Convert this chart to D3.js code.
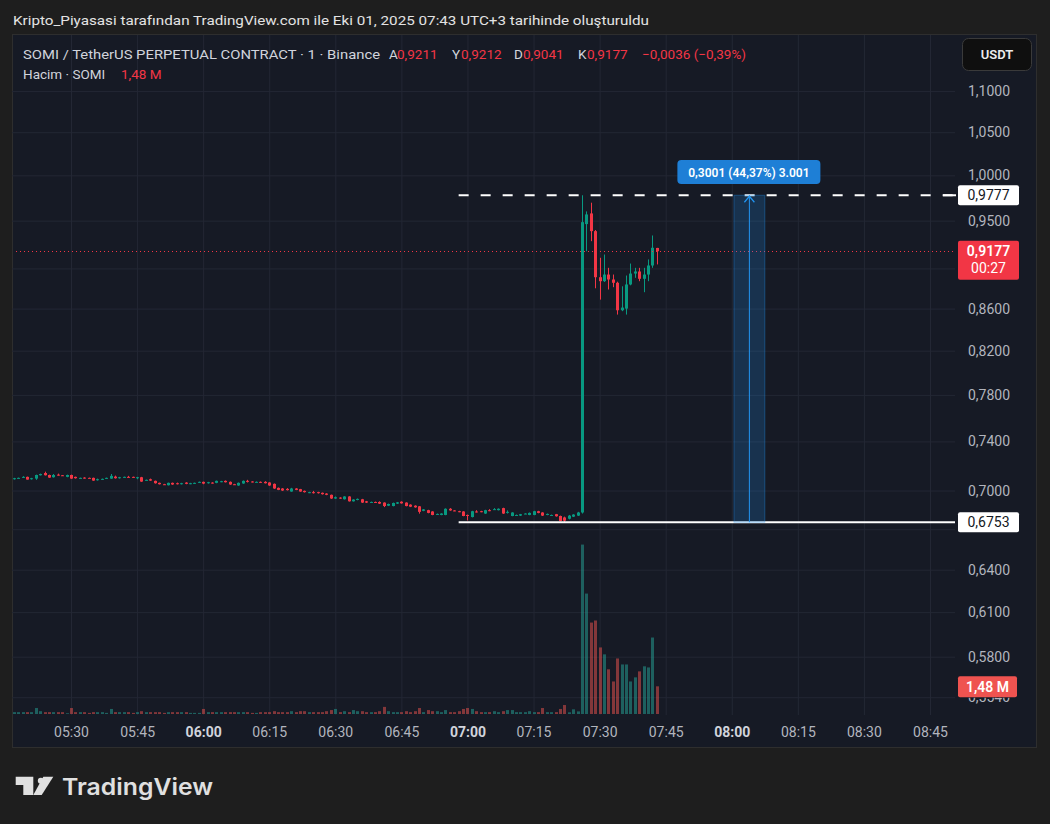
<!DOCTYPE html>
<html><head><meta charset="utf-8">
<script src="https://cdn.jsdelivr.net/npm/d3@7"></script>
<style>
html,body{margin:0;padding:0;background:#1e1e1e;}
svg{display:block;font-family:Roboto,"Noto Sans",sans-serif;}
</style></head>
<body>
<svg id="c" width="1050" height="824"></svg>
<script>
// ---------------- DATA ----------------
const startTime = "05:17";   // first 1-minute candle
const opens = [
.7095,.7098,.7101,.7109,.7093,.7095,.7122,.7140,.7124,.7106,
.7127,.7122,.7109,.7124,.7109,.7098,.7103,.7101,.7101,.7082,
.7087,.7095,.7095,.7111,.7098,.7106,.7109,.7109,.7103,.7106,
.7082,.7090,.7077,.7061,.7050,.7042,.7061,.7058,.7050,.7063,
.7053,.7055,.7063,.7069,.7058,.7063,.7061,.7069,.7077,.7069,
.7050,.7040,.7056,.7077,.7072,.7066,.7069,.7069,.7064,.7053,
.7021,.7016,.7013,.6992,.7016,.7011,.6997,.6982,.6987,.6987,
.6982,.6976,.6966,.6937,.6944,.6931,.6953,.6915,.6926,.6931,
.6915,.6907,.6910,.6910,.6905,.6881,.6878,.6897,.6912,.6905,
.6889,.6881,.6876,.6841,.6846,.6836,.6812,.6809,.6809,.6857,
.6844,.6838,.6836,.6809,.6793,.6836,.6838,.6820,.6846,.6852,
.6846,.6862,.6830,.6801,.6807,.6804,.6817,.6809,.6809,.6838,
.6828,.6809,.6807,.6815,.6801,.6790,.6780,.6796,.6804,.6828,
.9463,.9578,.9388,.8911,.8871,.8938,.8888,.8855,.8584,.8600,
.8838,.8948,.8969,.8895,.8938,.9030,.9211];
const highs = [
.7101,.7103,.7114,.7111,.7101,.7127,.7135,.7151,.7127,.7132,
.7135,.7124,.7127,.7127,.7111,.7103,.7106,.7103,.7103,.7095,
.7095,.7103,.7132,.7119,.7109,.7111,.7117,.7111,.7109,.7109,
.7087,.7095,.7079,.7063,.7053,.7063,.7063,.7063,.7061,.7066,
.7061,.7063,.7071,.7071,.7069,.7066,.7079,.7077,.7080,.7072,
.7053,.7064,.7080,.7085,.7074,.7072,.7072,.7074,.7066,.7056,
.7024,.7019,.7019,.7021,.7019,.7013,.7000,.6990,.6997,.6990,
.6984,.6979,.6968,.6953,.6947,.6955,.6955,.6931,.6937,.6934,
.6918,.6913,.6913,.6915,.6907,.6897,.6905,.6910,.6915,.6907,
.6892,.6884,.6878,.6855,.6849,.6838,.6820,.6822,.6860,.6862,
.6846,.6841,.6838,.6812,.6841,.6846,.6841,.6849,.6854,.6862,
.6860,.6865,.6844,.6830,.6812,.6817,.6822,.6828,.6841,.6841,
.6830,.6820,.6812,.6817,.6804,.6796,.6809,.6815,.6833,.9777,
.9600,.9695,.9400,.9109,.9143,.9006,.8938,.8866,.8820,.8928,
.9050,.9006,.9006,.9006,.9092,.9342,.9212];
const lows = [
.7087,.7095,.7101,.7087,.7087,.7085,.7120,.7120,.7101,.7103,
.7119,.7117,.7106,.7093,.7095,.7095,.7095,.7097,.7077,.7079,
.7085,.7093,.7093,.7095,.7095,.7103,.7103,.7101,.7090,.7069,
.7079,.7077,.7055,.7048,.7045,.7040,.7045,.7048,.7048,.7050,
.7050,.7053,.7061,.7050,.7055,.7055,.7058,.7066,.7064,.7045,
.7045,.7037,.7053,.7064,.7064,.7064,.7061,.7056,.7037,.7013,
.7003,.6997,.7000,.6990,.7003,.6990,.6984,.6979,.6976,.6976,
.6968,.6963,.6934,.6934,.6934,.6929,.6913,.6913,.6923,.6902,
.6902,.6905,.6902,.6894,.6870,.6878,.6876,.6894,.6897,.6876,
.6870,.6865,.6819,.6838,.6822,.6807,.6809,.6807,.6807,.6841,
.6838,.6830,.6799,.6767,.6790,.6828,.6830,.6817,.6838,.6849,
.6844,.6817,.6820,.6799,.6804,.6801,.6815,.6807,.6807,.6822,
.6801,.6807,.6804,.6796,.6759,.6753,.6775,.6793,.6801,.6820,
.9177,.9282,.8800,.8688,.8863,.8788,.8811,.8542,.8575,.8542,
.8830,.8905,.8871,.8761,.8871,.9006,.9041];
const closes = [
.7098,.7101,.7109,.7087,.7098,.7124,.7132,.7122,.7103,.7124,
.7122,.7119,.7124,.7095,.7098,.7101,.7098,.7099,.7079,.7090,
.7093,.7101,.7117,.7098,.7106,.7109,.7106,.7103,.7106,.7071,
.7085,.7079,.7058,.7050,.7048,.7061,.7048,.7050,.7058,.7053,
.7058,.7061,.7069,.7055,.7066,.7058,.7077,.7074,.7066,.7048,
.7049,.7061,.7077,.7072,.7066,.7069,.7064,.7058,.7040,.7016,
.7005,.7000,.7003,.7016,.7005,.6992,.6987,.6987,.6979,.6979,
.6971,.6966,.6937,.6947,.6937,.6953,.6915,.6929,.6934,.6905,
.6905,.6910,.6905,.6897,.6878,.6894,.6902,.6907,.6899,.6878,
.6873,.6868,.6833,.6852,.6825,.6809,.6817,.6820,.6857,.6844,
.6841,.6833,.6801,.6806,.6838,.6834,.6833,.6846,.6844,.6854,
.6857,.6820,.6833,.6828,.6809,.6815,.6820,.6825,.6838,.6825,
.6804,.6817,.6809,.6799,.6762,.6765,.6804,.6812,.6828,.9484,
.9567,.9388,.8911,.8871,.8938,.8888,.8855,.8584,.8610,.8838,
.8948,.8969,.8895,.8938,.9030,.9213,.9177];
// volume, millions of SOMI
const volumes = [
.10,.10,.10,.10,.10,.32,.15,.10,.10,.10,
.10,.10,.04,.32,.10,.10,.10,.06,.10,.10,
.10,.06,.27,.10,.10,.10,.10,.06,.10,.15,
.10,.10,.10,.10,.06,.10,.10,.10,.10,.10,
.06,.06,.06,.27,.10,.10,.10,.10,.10,.10,
.10,.10,.10,.10,.06,.06,.10,.10,.10,.15,
.10,.10,.10,.15,.10,.15,.15,.10,.10,.10,
.10,.15,.21,.27,.10,.15,.10,.21,.15,.15,
.10,.10,.10,.15,.38,.15,.10,.10,.10,.15,
.10,.15,.32,.10,.21,.15,.15,.10,.21,.10,
.10,.15,.27,.32,.27,.15,.10,.10,.10,.15,
.10,.15,.21,.21,.10,.10,.10,.15,.10,.10,
.32,.10,.10,.10,.27,.48,.09,.25,.14,9.06,
6.44,4.89,5.00,3.56,3.19,2.39,1.74,2.97,2.65,2.65,
1.74,1.96,2.28,2.55,2.49,4.09,1.48];
const priceTicks = [1.1, 1.05, 1.0, 0.95, 0.90, 0.86, 0.82, 0.78, 0.74, 0.70, 0.67, 0.64, 0.61, 0.58, 0.554];
const timeDomain = ["05:30", "08:45"];
const levelHigh = 0.9777, levelLow = 0.6753, levelStart = "06:58";
const measureStart = "08:00:30", measureEnd = "08:07:30";
const measureLabel = "0,3001 (44,37%) 3.001";
const countdown = "00:27";
const titleText = "Kripto_Piyasasi tarafından TradingView.com ile Eki 01, 2025 07:43 UTC+3 tarihinde oluşturuldu";
const symbolText = "SOMI / TetherUS PERPETUAL CONTRACT · 1 · Binance";
const volumeText = "Hacim · SOMI";

// ---------------- SETUP ----------------
const loc = d3.formatLocale({decimal: ",", thousands: ".", grouping: [3], currency: ["", ""], minus: "\u2212"});
const f4 = loc.format(".4f"), f2 = loc.format(".2f");
const T = s => { const [h, m, sec] = s.split(":").map(Number); return new Date(Date.UTC(2025, 9, 1, h, m, sec || 0)); };
const times = closes.map((_, i) => d3.utcMinute.offset(T(startTime), i));
const data = closes.map((c, i) => ({t: times[i], o: opens[i], h: highs[i], l: lows[i], c, v: volumes[i]}));

const PL = 12, PR = 955, PT = 35, PB = 715;
const x = d3.scaleUtc().domain(timeDomain.map(T)).range([71, 930]);
const y = d3.scaleLog().domain([0.58, 1.1]).range([656.7, 91.1]);
const yv = d3.scaleLinear().domain([0, 10]).range([714, 527]);

const UP = "#089981", DN = "#f23645";
const VUP = "rgba(38,166,154,0.5)", VDN = "rgba(239,83,80,0.5)";
const BG = "#161a25", GRID = "#232734", AX = "#b2b5be";

const last = data[data.length - 1], prev = data[data.length - 2];

const svg = d3.select("#c");
svg.append("rect").attr("width", 1050).attr("height", 824).attr("fill", "#1e1e1e");

// title
svg.append("text").attr("x", 13).attr("y", 24.5).attr("fill", "#e3e3e3")
  .attr("font-size", 13.5).attr("textLength", 636).attr("lengthAdjust", "spacingAndGlyphs").text(titleText);

// chart panel
svg.append("rect").attr("x", 12.5).attr("y", 34.5).attr("width", 1024).attr("height", 713)
  .attr("fill", BG).attr("stroke", "#2e2e2e");

// gridlines
const gy = svg.append("g").attr("transform", `translate(${PL},0)`)
  .call(d3.axisLeft(y).tickValues(priceTicks).tickSize(-(PR - PL)).tickFormat(""));
gy.select(".domain").remove();
gy.selectAll("line").attr("stroke", GRID);
const gx = svg.append("g").attr("transform", `translate(0,${PB})`)
  .call(d3.axisBottom(x).ticks(d3.utcMinute.every(15)).tickSize(-(PB - PT)).tickFormat(""));
gx.select(".domain").remove();
gx.selectAll("line").attr("stroke", GRID);

// plot clip
svg.append("clipPath").attr("id", "clip").append("rect")
  .attr("x", PL + 1).attr("y", PT + 1).attr("width", PR - PL - 1).attr("height", PB - PT - 1);
const plot = svg.append("g").attr("clip-path", "url(#clip)");

const xc = d => Math.round(x(d.t));
// volume
plot.append("g").selectAll("rect").data(data).join("rect")
  .attr("x", d => xc(d) - 1).attr("width", 3)
  .attr("y", d => yv(d.v)).attr("height", d => yv(0) - yv(d.v))
  .attr("fill", d => d.c >= d.o ? VUP : VDN);

// candles
const cg = plot.append("g");
cg.selectAll("line").data(data).join("line")
  .attr("x1", d => xc(d) + 0.5).attr("x2", d => xc(d) + 0.5)
  .attr("y1", d => y(d.h)).attr("y2", d => y(d.l))
  .attr("stroke", d => d.c >= d.o ? UP : DN).attr("stroke-width", 1);
cg.selectAll("rect").data(data).join("rect")
  .attr("x", d => xc(d) - 1).attr("width", 3)
  .attr("y", d => Math.min(y(d.o), y(d.c)))
  .attr("height", d => Math.max(1, Math.abs(y(d.o) - y(d.c))))
  .attr("fill", d => d.c >= d.o ? UP : DN);

// horizontal levels
plot.append("line").attr("x1", x(T(levelStart))).attr("x2", PR)
  .attr("y1", y(levelHigh)).attr("y2", y(levelHigh))
  .attr("stroke", "#ffffff").attr("stroke-width", 2).attr("stroke-dasharray", "10,12");
plot.append("line").attr("x1", x(T(levelStart))).attr("x2", PR)
  .attr("y1", y(levelLow)).attr("y2", y(levelLow))
  .attr("stroke", "#ffffff").attr("stroke-width", 2);

// last price dotted line
plot.append("line").attr("x1", PL).attr("x2", PR)
  .attr("y1", Math.round(y(last.c)) + 0.5).attr("y2", Math.round(y(last.c)) + 0.5)
  .attr("stroke", DN).attr("stroke-width", 1).attr("stroke-dasharray", "1,3");

// measurement
const mx0 = x(T(measureStart)), mx1 = x(T(measureEnd)), mxc = (mx0 + mx1) / 2;
plot.append("rect").attr("x", mx0).attr("width", mx1 - mx0)
  .attr("y", y(levelHigh)).attr("height", y(levelLow) - y(levelHigh))
  .attr("fill", "rgba(33,150,243,0.2)").attr("stroke", "rgba(33,150,243,0.35)").attr("stroke-width", 1);
plot.append("line").attr("x1", mxc).attr("x2", mxc)
  .attr("y1", y(levelHigh)).attr("y2", y(levelLow))
  .attr("stroke", "#2196f3").attr("stroke-width", 1);
plot.append("path")
  .attr("d", `M${mxc - 5},${y(levelHigh) + 7}L${mxc},${y(levelHigh) + 1}L${mxc + 5},${y(levelHigh) + 7}`)
  .attr("fill", "none").attr("stroke", "#2196f3").attr("stroke-width", 1.2);
const mlab = svg.append("g");
mlab.append("rect").attr("x", mxc - 72).attr("y", 160).attr("width", 143).attr("height", 24).attr("rx", 4)
  .attr("fill", "#1e7fd6");
mlab.append("text").attr("x", mxc - 0.5).attr("y", 176.5).attr("text-anchor", "middle")
  .attr("fill", "#ffffff").attr("font-size", 12).attr("font-weight", 600).text(measureLabel);

// legend
const lg = svg.append("g").attr("font-size", 13.5);
lg.append("text").attr("x", 23).attr("y", 59).attr("fill", "#d1d4dc")
  .attr("textLength", 357).attr("lengthAdjust", "spacingAndGlyphs").text(symbolText);
const ohlc = [["A", last.o, 389, 397], ["Y", last.h, 452, 461], ["D", last.l, 514, 523], ["K", last.c, 578, 587]];
ohlc.forEach(([k, v, xk, xv]) => {
  lg.append("text").attr("x", xk).attr("y", 59).attr("fill", "#d1d4dc").text(k);
  lg.append("text").attr("x", xv).attr("y", 59).attr("fill", DN).text(f4(v));
});
const chg = last.c - prev.c;
lg.append("text").attr("x", 642).attr("y", 59).attr("fill", DN)
  .text(`${f4(chg)} (${loc.format(".2f")(chg / prev.c * 100)}%)`);
lg.append("text").attr("x", 23).attr("y", 79).attr("fill", "#d1d4dc").text(volumeText);
lg.append("text").attr("x", 121).attr("y", 79).attr("fill", DN).text(`${f2(last.v)} M`);

// price axis: labels hidden where a price-label box sits on top of them
const boxYs = [y(levelHigh), y(last.c) + 8, y(levelLow)];
const hidden = v => boxYs.some(b => Math.abs(y(v) - b) < 17);
const pa = svg.append("g").attr("transform", "translate(968,0)")
  .call(d3.axisRight(y).tickValues(priceTicks).tickSize(0).tickPadding(0)
    .tickFormat(v => hidden(v) ? "" : f4(v)));
pa.select(".domain").remove();
pa.selectAll("text").attr("fill", AX).attr("font-size", 14).attr("font-family", "Roboto, sans-serif");
// the lowest tick label is partly covered by the volume label: show only its uncovered lower part
const volLabelY = yv(last.v);
const lowTick = priceTicks[priceTicks.length - 1];
svg.append("clipPath").attr("id", "volclip").append("rect")
  .attr("x", -10).attr("y", volLabelY + 11 - y(lowTick)).attr("width", 80).attr("height", 20);
pa.selectAll(".tick").filter(d => d === lowTick).select("text").attr("clip-path", "url(#volclip)");

// price labels
function plabel(val, fill, color, txt, h) {
  const yy = y(val);
  svg.append("rect").attr("x", 958).attr("y", yy - h / 2).attr("width", 61).attr("height", h).attr("rx", 2).attr("fill", fill);
  svg.append("text").attr("x", 988.5).attr("y", yy + 5).attr("text-anchor", "middle")
    .attr("fill", color).attr("font-size", 14).text(txt);
}
svg.append("line").attr("x1", 943).attr("x2", 956).attr("y1", y(levelHigh)).attr("y2", y(levelHigh)).attr("stroke", "#fff").attr("stroke-width", 2);
plabel(levelHigh, "#ffffff", "#131722", f4(levelHigh), 20);
plabel(levelLow, "#ffffff", "#131722", f4(levelLow), 20);
{
  const yy = y(last.c);
  svg.append("rect").attr("x", 958).attr("y", yy - 10.5).attr("width", 61).attr("height", 39).attr("rx", 2).attr("fill", DN);
  svg.append("text").attr("x", 988.5).attr("y", yy + 5).attr("text-anchor", "middle")
    .attr("fill", "#fff").attr("font-size", 14).attr("font-weight", 600).text(f4(last.c));
  svg.append("text").attr("x", 988.5).attr("y", yy + 22).attr("text-anchor", "middle")
    .attr("fill", "#fff").attr("font-size", 14).text(countdown);
}
{
  const yy = volLabelY;
  svg.append("rect").attr("x", 958).attr("y", yy - 10).attr("width", 59).attr("height", 21).attr("rx", 2).attr("fill", "#ef5350");
  svg.append("text").attr("x", 987.5).attr("y", yy + 5.5).attr("text-anchor", "middle")
    .attr("fill", "#fff").attr("font-size", 14).attr("font-weight", 600).text(`${f2(last.v)} M`);
}

// USDT button
svg.append("rect").attr("x", 962.5).attr("y", 38.5).attr("width", 69).attr("height", 32).attr("rx", 6)
  .attr("fill", "#0f0f0f").attr("stroke", "#3a3a3a");
svg.append("text").attr("x", 997).attr("y", 59).attr("text-anchor", "middle")
  .attr("fill", "#ececec").attr("font-size", 13).attr("font-weight", 600).text("USDT");

// time axis
const ta = svg.append("g").attr("transform", "translate(0,736.5)")
  .call(d3.axisBottom(x).ticks(d3.utcMinute.every(15)).tickSize(0).tickFormat(d3.utcFormat("%H:%M")));
ta.select(".domain").remove();
ta.selectAll("text").attr("y", 0).attr("dy", 0).attr("font-size", 14).attr("font-family", "Roboto, sans-serif")
  .attr("fill", d => d.getUTCMinutes() === 0 ? "#d1d4dc" : AX)
  .attr("font-weight", d => d.getUTCMinutes() === 0 ? 700 : 400);

// TradingView logo
const logo = svg.append("g").attr("fill", "#e0e0e0");
logo.append("path").attr("d", "M15.7,776.7H33.3V795H23.3V785H15.7Z");
logo.append("circle").attr("cx", 40.8).attr("cy", 780.8).attr("r", 3);
logo.append("path").attr("d", "M43.3,776.7H53.3L41.7,795H33.3Z");
logo.append("text").attr("x", 62).attr("y", 795).attr("font-family", "Inter, sans-serif")
  .attr("font-size", 23).attr("font-weight", 600).attr("textLength", 151).attr("lengthAdjust", "spacingAndGlyphs").text("TradingView");
</script>
</body></html>
